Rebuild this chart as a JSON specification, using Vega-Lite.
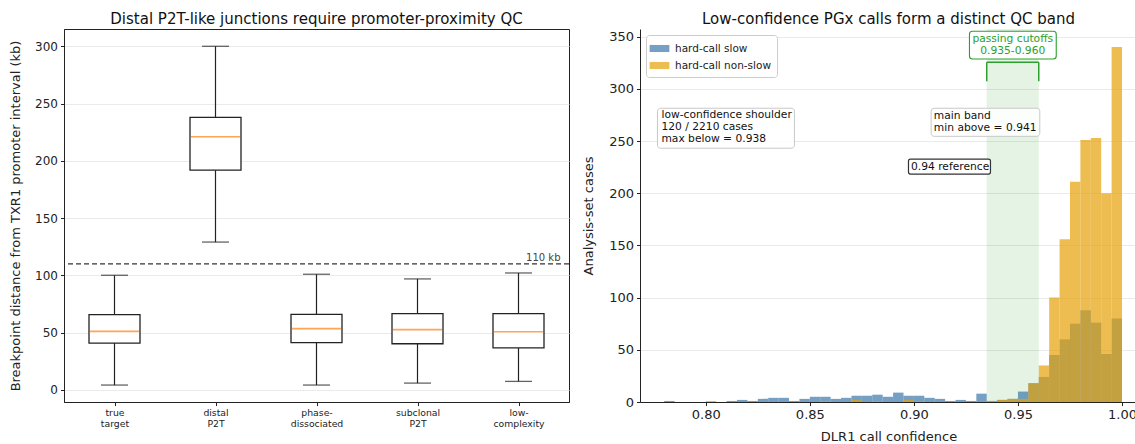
{
  "$schema": "https://vega.github.io/schema/vega-lite/v6.json",
  "padding": {"left": 8, "top": 11, "right": 0, "bottom": 0},
  "spacing": 11,
  "resolve": {"legend": {"color": "independent"}},
  "config": {
    "font": "DejaVu Sans",
    "view": {"stroke": "#222", "strokeWidth": 1},
    "title": {"fontSize": 15, "fontWeight": "normal", "color": "#111", "offset": 2},
    "axis": {"labelFontSize": 12, "titleFontSize": 13, "titleFontWeight": "normal", "labelColor": "#222", "titleColor": "#222", "tickColor": "#222", "domainColor": "#222", "gridColor": "#e8e8e8", "gridWidth": 0.9, "tickSize": 3.5, "labelPadding": 3}
  },
  "datasets": {
    "boxes": [
      {"group": "true target", "lower": 4.1, "q1": 40.8, "median": 51.0, "q3": 65.6, "upper": 100.0},
      {"group": "distal P2T", "lower": 129.0, "q1": 191.8, "median": 221.0, "q3": 237.9, "upper": 300.0},
      {"group": "phase-dissociated", "lower": 4.1, "q1": 41.1, "median": 53.4, "q3": 65.9, "upper": 100.9},
      {"group": "subclonal P2T", "lower": 5.8, "q1": 40.2, "median": 52.5, "q3": 66.5, "upper": 96.8},
      {"group": "low-complexity", "lower": 7.3, "q1": 36.5, "median": 50.7, "q3": 66.5, "upper": 102.0}
    ],
    "threshold": [{"kb": 110, "group": "low-complexity", "label": "110 kb"}],
    "hist": [
      {"lo": 0.780, "hi": 0.785, "group": "hard-call slow", "count": 1},
      {"lo": 0.810, "hi": 0.815, "group": "hard-call slow", "count": 1},
      {"lo": 0.815, "hi": 0.820, "group": "hard-call slow", "count": 2},
      {"lo": 0.820, "hi": 0.825, "group": "hard-call slow", "count": 1},
      {"lo": 0.825, "hi": 0.830, "group": "hard-call slow", "count": 3},
      {"lo": 0.830, "hi": 0.835, "group": "hard-call slow", "count": 4},
      {"lo": 0.835, "hi": 0.840, "group": "hard-call slow", "count": 4},
      {"lo": 0.840, "hi": 0.845, "group": "hard-call slow", "count": 1},
      {"lo": 0.845, "hi": 0.850, "group": "hard-call slow", "count": 3},
      {"lo": 0.850, "hi": 0.855, "group": "hard-call slow", "count": 5},
      {"lo": 0.855, "hi": 0.860, "group": "hard-call slow", "count": 5},
      {"lo": 0.860, "hi": 0.865, "group": "hard-call slow", "count": 3},
      {"lo": 0.865, "hi": 0.870, "group": "hard-call slow", "count": 4},
      {"lo": 0.870, "hi": 0.875, "group": "hard-call slow", "count": 6},
      {"lo": 0.875, "hi": 0.880, "group": "hard-call slow", "count": 6},
      {"lo": 0.880, "hi": 0.885, "group": "hard-call slow", "count": 7},
      {"lo": 0.885, "hi": 0.890, "group": "hard-call slow", "count": 5},
      {"lo": 0.890, "hi": 0.895, "group": "hard-call slow", "count": 9},
      {"lo": 0.895, "hi": 0.900, "group": "hard-call slow", "count": 6},
      {"lo": 0.900, "hi": 0.905, "group": "hard-call slow", "count": 6},
      {"lo": 0.905, "hi": 0.910, "group": "hard-call slow", "count": 4},
      {"lo": 0.910, "hi": 0.915, "group": "hard-call slow", "count": 3},
      {"lo": 0.915, "hi": 0.920, "group": "hard-call slow", "count": 1},
      {"lo": 0.920, "hi": 0.925, "group": "hard-call slow", "count": 2},
      {"lo": 0.925, "hi": 0.930, "group": "hard-call slow", "count": 1},
      {"lo": 0.930, "hi": 0.935, "group": "hard-call slow", "count": 8},
      {"lo": 0.935, "hi": 0.940, "group": "hard-call slow", "count": 1},
      {"lo": 0.940, "hi": 0.945, "group": "hard-call slow", "count": 2},
      {"lo": 0.945, "hi": 0.950, "group": "hard-call slow", "count": 3},
      {"lo": 0.950, "hi": 0.955, "group": "hard-call slow", "count": 10},
      {"lo": 0.955, "hi": 0.960, "group": "hard-call slow", "count": 18},
      {"lo": 0.960, "hi": 0.965, "group": "hard-call slow", "count": 24},
      {"lo": 0.965, "hi": 0.970, "group": "hard-call slow", "count": 45},
      {"lo": 0.970, "hi": 0.975, "group": "hard-call slow", "count": 60},
      {"lo": 0.975, "hi": 0.980, "group": "hard-call slow", "count": 75},
      {"lo": 0.980, "hi": 0.985, "group": "hard-call slow", "count": 88},
      {"lo": 0.985, "hi": 0.990, "group": "hard-call slow", "count": 76},
      {"lo": 0.990, "hi": 0.995, "group": "hard-call slow", "count": 46},
      {"lo": 0.995, "hi": 1.000, "group": "hard-call slow", "count": 80},
      {"lo": 0.800, "hi": 0.805, "group": "hard-call non-slow", "count": 1},
      {"lo": 0.855, "hi": 0.860, "group": "hard-call non-slow", "count": 1},
      {"lo": 0.870, "hi": 0.875, "group": "hard-call non-slow", "count": 2},
      {"lo": 0.880, "hi": 0.885, "group": "hard-call non-slow", "count": 1},
      {"lo": 0.895, "hi": 0.900, "group": "hard-call non-slow", "count": 2},
      {"lo": 0.900, "hi": 0.905, "group": "hard-call non-slow", "count": 1},
      {"lo": 0.935, "hi": 0.940, "group": "hard-call non-slow", "count": 1},
      {"lo": 0.940, "hi": 0.945, "group": "hard-call non-slow", "count": 2},
      {"lo": 0.945, "hi": 0.950, "group": "hard-call non-slow", "count": 3},
      {"lo": 0.950, "hi": 0.955, "group": "hard-call non-slow", "count": 3},
      {"lo": 0.955, "hi": 0.960, "group": "hard-call non-slow", "count": 18},
      {"lo": 0.960, "hi": 0.965, "group": "hard-call non-slow", "count": 35},
      {"lo": 0.965, "hi": 0.970, "group": "hard-call non-slow", "count": 100},
      {"lo": 0.970, "hi": 0.975, "group": "hard-call non-slow", "count": 156},
      {"lo": 0.975, "hi": 0.980, "group": "hard-call non-slow", "count": 211},
      {"lo": 0.980, "hi": 0.985, "group": "hard-call non-slow", "count": 251},
      {"lo": 0.985, "hi": 0.990, "group": "hard-call non-slow", "count": 253},
      {"lo": 0.990, "hi": 0.995, "group": "hard-call non-slow", "count": 200},
      {"lo": 0.995, "hi": 1.000, "group": "hard-call non-slow", "count": 340}
    ],
    "band": [{"lo": 0.935, "hi": 0.960}],
    "bracket": [
      {"x": 0.935, "x2": 0.960, "y": 325.4, "y2": 325.4},
      {"x": 0.935, "x2": 0.935, "y": 307.2, "y2": 325.4},
      {"x": 0.960, "x2": 0.960, "y": 307.2, "y2": 325.4}
    ],
    "greyboxes": [
      {"x": 0.7768, "x2": 0.8426, "y": 243.1, "y2": 281.4},
      {"x": 0.9083, "x2": 0.9605, "y": 254.5, "y2": 281.4}
    ],
    "greylabels": [
      {"x": 0.7787, "y": 274.6, "text": ["low-confidence shoulder", "120 / 2210 cases", "max below = 0.938"]},
      {"x": 0.9096, "y": 274.2, "text": ["main band", "min above = 0.941"]}
    ],
    "refbox": [{"x": 0.8974, "x2": 0.9368, "y": 218.3, "y2": 232.7, "tx": 0.8986, "ty": 225.3, "text": "0.94 reference"}],
    "greenbox": [{"x": 0.9267, "x2": 0.9684, "y": 328.6, "y2": 355.1, "tx": 0.9475, "ty": 348.0, "text": ["passing cutoffs", "0.935-0.960"]}]
  },
  "hconcat": [
    {
      "width": 505,
      "height": 373,
      "title": "Distal P2T-like junctions require promoter-proximity QC",
      "layer": [
        {
          "data": {"name": "boxes"},
          "mark": {"type": "rule", "color": "#222", "strokeWidth": 1.2},
          "encoding": {
            "x": {"field": "group", "type": "nominal", "sort": null,
              "scale": {"type": "point", "padding": 0.5, "domain": ["true target", "distal P2T", "phase-dissociated", "subclonal P2T", "low-complexity"]},
              "axis": {"title": null, "labelAngle": 0, "labelFontSize": 9.3, "labelLineHeight": 10.5, "grid": false,
                "labelExpr": "datum.value == 'phase-dissociated' ? ['phase-', 'dissociated'] : datum.value == 'low-complexity' ? ['low-', 'complexity'] : split(datum.value, ' ')"}},
            "y": {"field": "lower", "type": "quantitative", "scale": {"domain": [-10.7, 315.1], "nice": false, "zero": false},
              "axis": {"title": "Breakpoint distance from TXR1 promoter interval (kb)", "values": [0, 50, 100, 150, 200, 250, 300], "grid": true, "titleX": -42}},
            "y2": {"field": "upper"}
          }
        },
        {
          "data": {"name": "boxes"},
          "mark": {"type": "tick", "color": "#222", "size": 27, "thickness": 1.3},
          "encoding": {"x": {"field": "group", "type": "nominal", "sort": null}, "y": {"field": "lower", "type": "quantitative"}}
        },
        {
          "data": {"name": "boxes"},
          "mark": {"type": "tick", "color": "#222", "size": 27, "thickness": 1.3},
          "encoding": {"x": {"field": "group", "type": "nominal", "sort": null}, "y": {"field": "upper", "type": "quantitative"}}
        },
        {
          "data": {"name": "boxes"},
          "mark": {"type": "bar", "size": 51, "fill": "white", "stroke": "#222", "strokeWidth": 1.3},
          "encoding": {"x": {"field": "group", "type": "nominal", "sort": null}, "y": {"field": "q1", "type": "quantitative"}, "y2": {"field": "q3"}}
        },
        {
          "data": {"name": "boxes"},
          "mark": {"type": "tick", "color": "#ff7f0e", "size": 49, "thickness": 1.6},
          "encoding": {"x": {"field": "group", "type": "nominal", "sort": null}, "y": {"field": "median", "type": "quantitative"}}
        },
        {
          "data": {"name": "threshold"},
          "mark": {"type": "rule", "color": "#333", "strokeWidth": 1.2, "strokeDash": [5, 3]},
          "encoding": {"y": {"field": "kb", "type": "quantitative"}}
        },
        {
          "data": {"name": "threshold"},
          "mark": {"type": "text", "align": "right", "baseline": "bottom", "dx": 42, "dy": -1, "fontSize": 10, "color": "#444"},
          "encoding": {"x": {"field": "group", "type": "nominal", "sort": null}, "y": {"field": "kb", "type": "quantitative"}, "text": {"field": "label"}}
        }
      ]
    },
    {
      "width": 497,
      "height": 373,
      "title": "Low-confidence PGx calls form a distinct QC band",
      "view": {"stroke": null},
      "layer": [
        {
          "data": {"name": "band"},
          "mark": {"type": "rect", "color": "#2ca02c", "opacity": 0.12},
          "encoding": {
            "x": {"field": "lo", "type": "quantitative", "scale": {"domain": [0.7684, 1.0072], "nice": false, "zero": false},
              "axis": {"title": "DLR1 call confidence", "values": [0.8, 0.85, 0.9, 0.95, 1.0], "format": ".2f", "grid": false, "labelFontSize": 13, "titlePadding": 9}},
            "x2": {"field": "hi"}
          }
        },
        {
          "data": {"name": "hist"},
          "mark": {"type": "bar", "opacity": 0.7},
          "encoding": {
            "x": {"field": "lo", "type": "quantitative"},
            "x2": {"field": "hi"},
            "y": {"field": "count", "type": "quantitative", "stack": null, "scale": {"domain": [0, 357.3], "nice": false},
              "axis": {"title": "Analysis-set cases", "values": [0, 50, 100, 150, 200, 250, 300, 350], "grid": true, "labelFontSize": 13, "titleX": -45}},
            "y2": {"datum": 0},
            "color": {"field": "group", "type": "nominal", "sort": null,
              "scale": {"domain": ["hard-call slow", "hard-call non-slow"], "range": ["#3a77ab", "#e5a108"]},
              "legend": {"title": null, "orient": "top-left", "offset": 6, "padding": 6, "strokeColor": "#cccccc", "fillColor": "white", "cornerRadius": 3,
                "labelFontSize": 10.5, "labelColor": "#222", "symbolType": "M-1.4,-0.5H1.4V0.5H-1.4Z", "symbolSize": 200, "symbolStrokeWidth": 0, "rowPadding": 4, "labelOffset": 8}}
          }
        },
        {
          "mark": {"type": "rule", "color": "#222", "strokeWidth": 1.2, "strokeDash": [5, 3]},
          "encoding": {"x": {"datum": 0.94}}
        },
        {
          "mark": {"type": "rule", "color": "#222", "strokeWidth": 1},
          "encoding": {"y": {"datum": 357.3}}
        },
        {
          "data": {"name": "bracket"},
          "mark": {"type": "rule", "color": "#2ca02c", "strokeWidth": 1.5},
          "encoding": {"x": {"field": "x", "type": "quantitative"}, "x2": {"field": "x2"}, "y": {"field": "y", "type": "quantitative"}, "y2": {"field": "y2"}}
        },
        {
          "data": {"name": "greyboxes"},
          "mark": {"type": "rect", "fill": "white", "fillOpacity": 0.85, "stroke": "#c8c8c8", "strokeWidth": 1, "cornerRadius": 3},
          "encoding": {"x": {"field": "x", "type": "quantitative"}, "x2": {"field": "x2"}, "y": {"field": "y", "type": "quantitative"}, "y2": {"field": "y2"}}
        },
        {
          "data": {"name": "greylabels"},
          "mark": {"type": "text", "align": "left", "baseline": "middle", "fontSize": 10.7, "lineHeight": 12, "color": "#111"},
          "encoding": {"x": {"field": "x", "type": "quantitative"}, "y": {"field": "y", "type": "quantitative"}, "text": {"field": "text"}}
        },
        {
          "data": {"name": "refbox"},
          "mark": {"type": "rect", "fill": "white", "fillOpacity": 0.85, "stroke": "#333", "strokeWidth": 1.2, "cornerRadius": 2},
          "encoding": {"x": {"field": "x", "type": "quantitative"}, "x2": {"field": "x2"}, "y": {"field": "y", "type": "quantitative"}, "y2": {"field": "y2"}}
        },
        {
          "data": {"name": "refbox"},
          "mark": {"type": "text", "align": "left", "baseline": "middle", "fontSize": 10.7, "color": "#111"},
          "encoding": {"x": {"field": "tx", "type": "quantitative"}, "y": {"field": "ty", "type": "quantitative"}, "text": {"field": "text"}}
        },
        {
          "data": {"name": "greenbox"},
          "mark": {"type": "rect", "fill": "white", "fillOpacity": 0.9, "stroke": "#2ca02c", "strokeWidth": 1.1, "cornerRadius": 3},
          "encoding": {"x": {"field": "x", "type": "quantitative"}, "x2": {"field": "x2"}, "y": {"field": "y", "type": "quantitative"}, "y2": {"field": "y2"}}
        },
        {
          "data": {"name": "greenbox"},
          "mark": {"type": "text", "align": "center", "baseline": "middle", "fontSize": 10.7, "lineHeight": 12, "color": "#2ca02c"},
          "encoding": {"x": {"field": "tx", "type": "quantitative"}, "y": {"field": "ty", "type": "quantitative"}, "text": {"field": "text"}}
        }
      ]
    }
  ]
}
